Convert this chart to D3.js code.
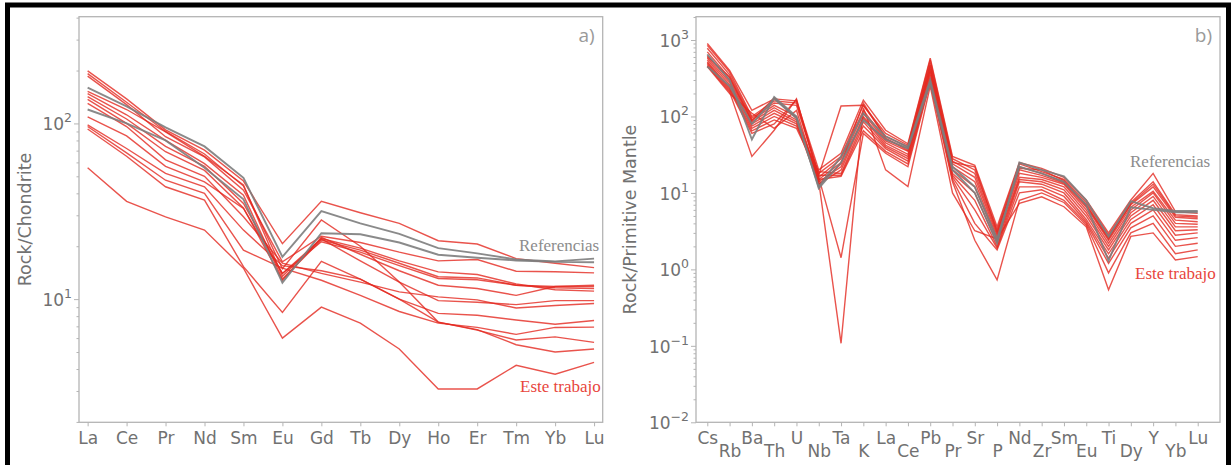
<!DOCTYPE html>
<html><head><meta charset="utf-8">
<script src="https://cdn.jsdelivr.net/npm/d3@7"></script>
<style>
body{margin:0;background:#fff;}
svg{display:block;}
</style></head><body>
<svg id="c" width="1232" height="465"></svg>
<script>
// ---------- Panel a) REE / Chondrite ----------
const reeElements = ["La","Ce","Pr","Nd","Sm","Eu","Gd","Tb","Dy","Ho","Er","Tm","Yb","Lu"];
const reeReferencias = [
  [160,125,95,74,49,17.4,31.7,27,23.5,19.5,18.2,16.8,16.4,17.0],
  [120,100,80,56,37,12.4,23.7,23.4,21,17.9,17.2,16.6,16.3,16.2]
];
const reeEsteTrabajo = [
  [199,138,92,70.5,47,20.7,36,31,27,21.5,20.6,17.0,16.0,15.1],
  [192,132,90,67,44,14.9,28.2,20,12.5,7.4,6.7,5.5,5.0,5.2],
  [186,128,84,64.5,41.7,16.3,22.8,21,18.5,16.5,16.8,14.4,14.3,14.1],
  [152,120,89.6,65,44.6,13.5,22.1,19.5,16.5,14.3,13.8,12.2,11.3,11.1],
  [148,112,80,59,39,13.0,21.7,19,16,13.4,13.2,12.0,11.8,11.8],
  [142,106,74,57,35,14.0,21.2,18.5,15.5,13.1,12.9,12.0,11.6,11.5],
  [137,100,69,54,33,12.8,22.5,18,14.5,12.0,11.5,10.5,11.8,12.0],
  [130,96,62,50,29.4,16.0,14.0,12.5,11.0,10.3,9.9,8.9,9.2,9.45],
  [109,85,57,46.5,32.8,14.0,22.0,16.5,12.5,9.8,9.6,9.3,9.8,9.8],
  [98,72,52,43.6,24.7,15.5,14.5,13.0,10.0,8.3,8.1,7.6,7.2,7.56],
  [96,68,47.5,40,19.0,15.0,12.8,10.5,8.5,7.3,6.9,6.3,6.9,6.93],
  [93,65,43.6,36.6,15.3,8.4,16.4,13,10,7.4,6.66,5.85,6.1,5.67],
  [56,36,29.4,24.7,15.0,6.0,9.0,7.3,5.2,3.08,3.08,4.2,3.74,4.36]
];
const reeYTicks = [10, 100];

// ---------- Panel b) Spider / Primitive Mantle ----------
const spiderElements = ["Cs","Rb","Ba","Th","U","Nb","Ta","K","La","Ce","Pb","Pr","Sr","P","Nd","Zr","Sm","Eu","Ti","Dy","Y","Yb","Lu"];
const spiderReferencias = [
  [650,300,50,180,100,11.5,25,90,50,38,270,20,10,2.2,25,20,16.5,8,2.7,7.8,6.3,5.8,5.8],
  [450,250,80,170,95,12,30,110,55,40,300,22,12,2.5,22,18,14,7,1.3,6.5,6.0,5.6,5.6]
];
const spiderEsteTrabajo = [
  [900,400,120,170,160,20,33,164,66,44,577,30,23,3.6,25,21,16,8.1,3.0,8.1,18,5.7,5.4],
  [850,380,100,160,150,18,30,140,60,42,550,28,20,3.3,24,19,15,7.5,2.8,7.5,14,5.2,5.0],
  [780,350,95,150,140,17,137,140,55,40,500,26,18,3.0,22,18,14,7.0,2.6,7.0,12,4.8,4.6],
  [700,320,90,140,100,16,28,120,50,38,450,24,16,2.8,20,17,13.5,6.5,2.4,6.5,10.5,4.4,4.2],
  [620,300,85,130,90,15,25,110,48,35,420,22,14,2.6,18,16,13,6.0,2.2,6.0,10,4.0,3.9],
  [580,280,80,120,85,14,22,100,45,32,400,20,12,2.4,16,15,12,5.5,2.0,5.5,9,3.6,3.6],
  [550,260,75,110,80,13,20,95,42,30,380,18,10,2.2,15,14,11,5.0,1.8,5.0,8,3.2,3.3],
  [520,240,70,100,75,19,18,85,40,28,350,17,8,2.0,14,13,10,4.5,1.6,4.5,7,2.8,3.0],
  [500,230,65,90,70,17,17,75,38,26,320,16,6,1.9,12,12,9,4.2,1.4,4.0,6,2.4,2.6],
  [480,220,60,80,165,15,16.5,65,35,24,300,15,4,1.8,10,11,8,4.0,1.2,3.5,5,2.0,2.2],
  [460,210,30,66,170,16,1.42,60,33,22,280,14,2.4,0.73,8,10,7.5,3.8,0.9,3.0,4,1.6,1.8],
  [450,200,110,70,120,14,0.108,130,20,12.1,250,10,3.2,2.5,7.3,8.9,6.6,3.6,0.54,2.7,3,1.33,1.47],
  [600,330,88,175,95,13,24,150,52,36,470,25,22,3.1,21,20,14.5,6.8,2.5,7.2,13,5.0,4.8]
];
const spiderYTicks = [0.01, 0.1, 1, 10, 100, 1000];

// ---------- drawing ----------
const svg = d3.select("#c");
const RED = "#e3281f", GRAY = "#7d7d7d", TXT = "#717171", SPINE = "#b4b4b4";
const tickFont = "DejaVu Sans, sans-serif";

svg.append("rect").attr("x",7.5).attr("y",5).attr("width",1221).attr("height",520)
  .attr("fill","none").attr("stroke","#000").attr("stroke-width",5);

function minorTicks(domain){
  const out=[]; const lo=Math.floor(Math.log10(domain[0])), hi=Math.ceil(Math.log10(domain[1]));
  for(let k=lo;k<=hi;k++) for(let m=2;m<=9;m++){const v=m*Math.pow(10,k); if(v>=domain[0]&&v<=domain[1]) out.push(v);}
  return out;
}

function panel(cfg){
  const g = svg.append("g");
  const x = d3.scaleLinear().domain(cfg.xDomain).range([cfg.left, cfg.right]);
  const y = d3.scaleLog().domain(cfg.yDomain).range([cfg.bottom, cfg.top]);
  // frame
  g.append("rect").attr("x",cfg.left).attr("y",cfg.top).attr("width",cfg.right-cfg.left).attr("height",cfg.bottom-cfg.top)
    .attr("fill","none").attr("stroke",SPINE).attr("stroke-width",1.3);
  // y axis ticks
  const yMinor = g.append("g").attr("transform",`translate(${cfg.left},0)`)
    .call(d3.axisLeft(y).tickValues(minorTicks(cfg.yDomain)).tickSize(2.5).tickFormat(""));
  const yMajor = g.append("g").attr("transform",`translate(${cfg.left},0)`)
    .call(d3.axisLeft(y).tickValues(cfg.yTicks).tickSize(5).tickFormat(""));
  [yMinor,yMajor].forEach(a=>{a.select(".domain").remove(); a.selectAll("line").attr("stroke",SPINE).attr("stroke-width",1);});
  cfg.yTicks.forEach(v=>{
    const e = Math.round(Math.log10(v));
    const t = g.append("text").attr("x",cfg.left-7).attr("y",y(v)+7).attr("text-anchor","end")
      .attr("font-family",tickFont).attr("font-size",17).attr("fill",TXT);
    t.append("tspan").text("10");
    t.append("tspan").attr("dy",-8).attr("font-size",12.5).text(e<0 ? "\u2212"+(-e) : String(e));
  });
  // x axis
  const xa = g.append("g").attr("transform",`translate(0,${cfg.bottom})`)
    .call(d3.axisBottom(x).tickValues(d3.range(cfg.elements.length)).tickSize(4).tickPadding(4).tickFormat(i=>cfg.elements[i]));
  xa.select(".domain").remove();
  xa.selectAll("line").attr("stroke",SPINE);
  xa.selectAll("text").attr("font-family",tickFont).attr("font-size",17).attr("fill",TXT)
    .attr("dy",null).attr("y",null)
    .attr("transform",(d,i)=> `translate(0,${cfg.stagger && i%2===1 ? 34.4 : 21.7})`);
  // y label
  g.append("text").attr("transform",`translate(${cfg.ylabX},${(cfg.top+cfg.bottom)/2}) rotate(-90)`)
    .attr("text-anchor","middle").attr("font-family",tickFont).attr("font-size",17.5).attr("fill",TXT).text(cfg.ylabel);
  // panel letter
  g.append("text").attr("x",cfg.right-8).attr("y",cfg.top+25).attr("text-anchor","end")
    .attr("font-family","Open Sans, DejaVu Sans, sans-serif").attr("font-size",19).attr("fill","#9a9a9a").text(cfg.letter);
  // lines
  const line = d3.line().x((d,i)=>x(i)).y(d=>y(d));
  g.append("g").selectAll("path").data(cfg.red).join("path").attr("d",line)
    .attr("fill","none").attr("stroke",RED).attr("stroke-opacity",0.8).attr("stroke-width",1.4).attr("stroke-linejoin","miter");
  g.append("g").selectAll("path").data(cfg.gray).join("path").attr("d",line)
    .attr("fill","none").attr("stroke",GRAY).attr("stroke-opacity",0.9).attr("stroke-width",1.9);
  // annotations
  g.append("text").attr("x",cfg.refPos[0]).attr("y",cfg.refPos[1]).attr("font-family","Liberation Serif, serif")
    .attr("font-size",17).attr("fill","#8c8c8c").text("Referencias");
  g.append("text").attr("x",cfg.estPos[0]).attr("y",cfg.estPos[1]).attr("font-family","Liberation Serif, serif")
    .attr("font-size",17).attr("fill","#e8453c").text("Este trabajo");
}

panel({elements:reeElements, red:reeEsteTrabajo, gray:reeReferencias, yTicks:reeYTicks,
  left:79, right:602.7, top:16.7, bottom:422.3,
  xDomain:[-0.2215,13.2215], yDomain:[1.99,405], stagger:false,
  ylabel:"Rock/Chondrite", ylabX:31, letter:"a)", refPos:[519,251], estPos:[520,392]});

panel({elements:spiderElements, red:spiderEsteTrabajo, gray:spiderReferencias, yTicks:spiderYTicks,
  left:696, right:1220, top:16.7, bottom:422.3,
  xDomain:[-0.507,23.0], yDomain:[0.01,2018], stagger:true,
  ylabel:"Rock/Primitive Mantle", ylabX:636, letter:"b)", refPos:[1130,167], estPos:[1135,279]});
</script>
</body></html>
